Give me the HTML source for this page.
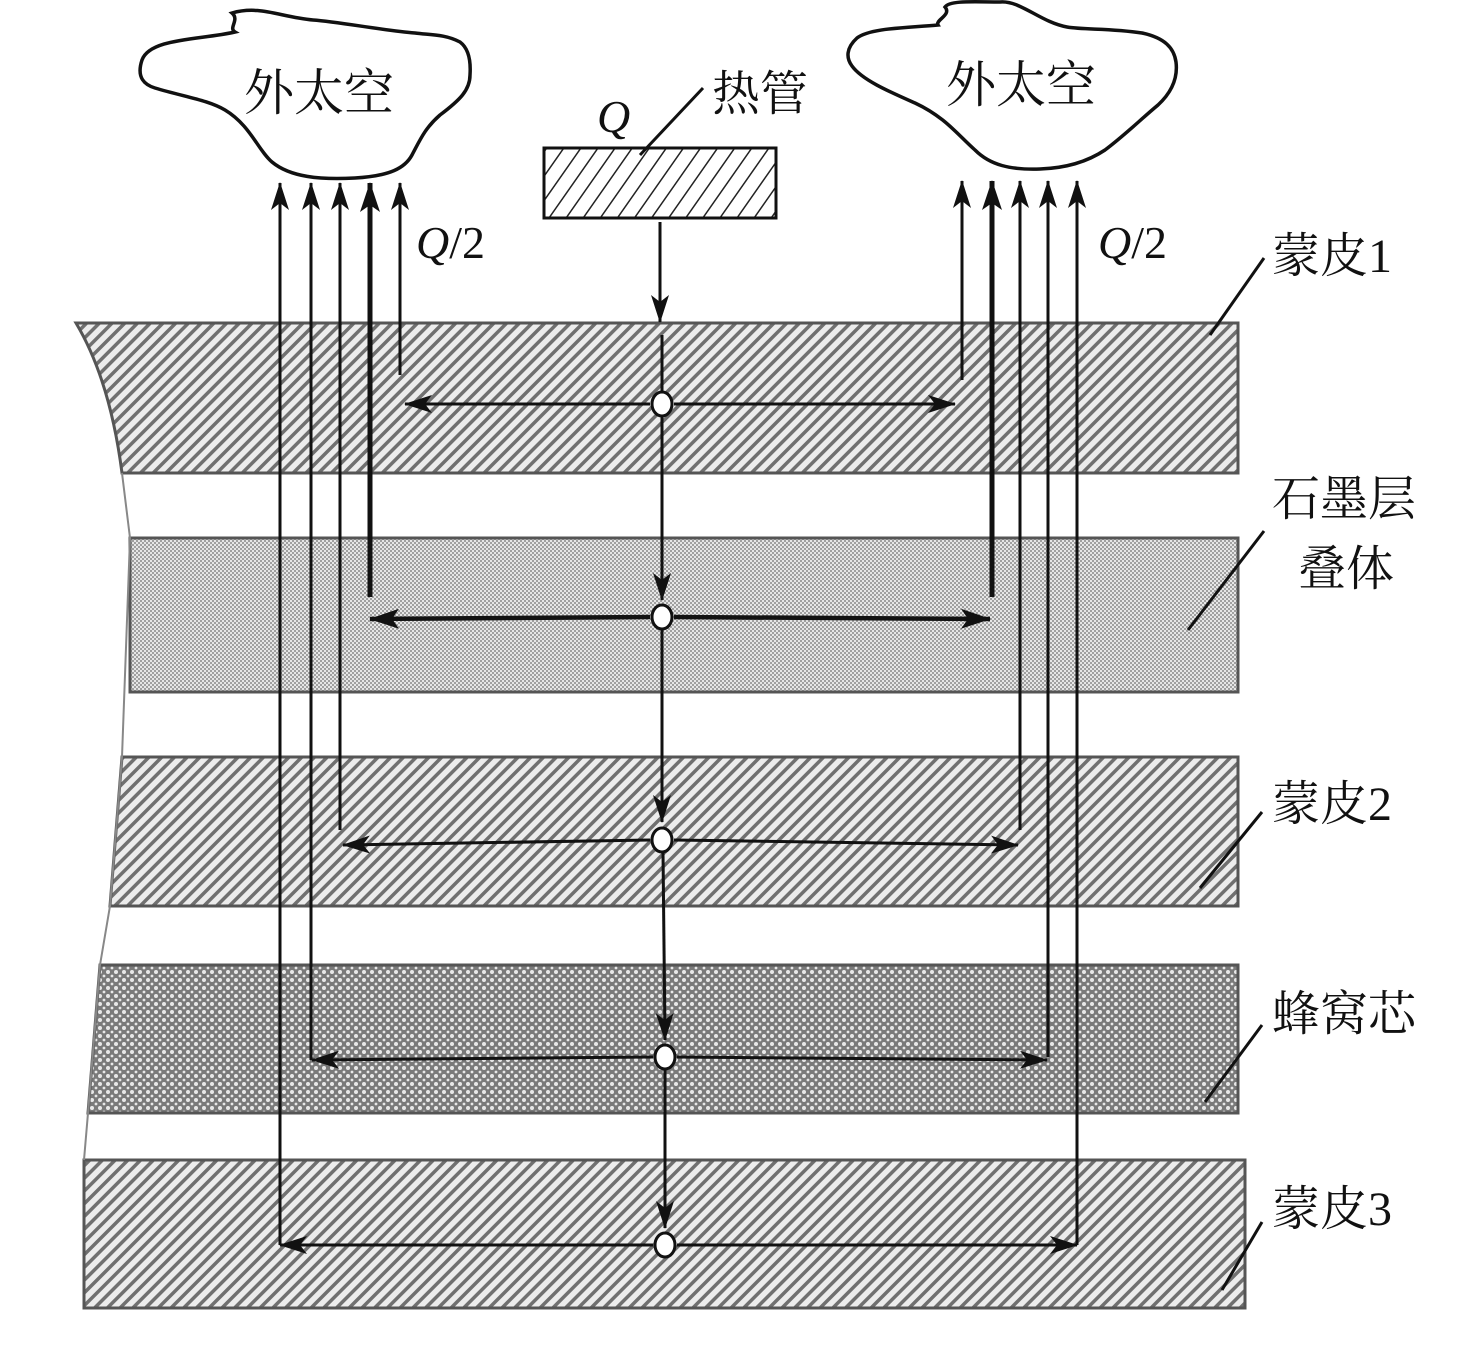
<!DOCTYPE html>
<html><head><meta charset="utf-8"><style>
html,body{margin:0;padding:0;background:#fff;}
svg{display:block;}
text{font-family:"Liberation Serif","Noto Serif CJK SC",serif;fill:#111;}
</style></head><body>
<svg width="1476" height="1345" viewBox="0 0 1476 1345" xmlns="http://www.w3.org/2000/svg">
<defs>
<pattern id="hatch" width="9" height="9" patternUnits="userSpaceOnUse" patternTransform="rotate(45)">
<rect width="9" height="9" fill="#ececec"/><rect width="3.5" height="9" fill="#707070"/>
</pattern>
<pattern id="dots" width="4" height="4" patternUnits="userSpaceOnUse">
<rect width="4" height="4" fill="#e6e6e6"/><rect width="2" height="2" fill="#a0a0a0"/><rect x="2" y="2" width="2" height="2" fill="#a0a0a0"/>
</pattern>
<pattern id="cross" width="8" height="8" patternUnits="userSpaceOnUse">
<rect width="8" height="8" fill="#7a7a7a"/><circle cx="4" cy="4" r="2" fill="#e8e8e8"/><circle cx="0" cy="0" r="1.4" fill="#e8e8e8"/><circle cx="8" cy="8" r="1.4" fill="#e8e8e8"/><circle cx="8" cy="0" r="1.4" fill="#e8e8e8"/><circle cx="0" cy="8" r="1.4" fill="#e8e8e8"/>
</pattern>
<pattern id="pipe" width="14" height="14" patternUnits="userSpaceOnUse" patternTransform="rotate(35)">
<rect width="14" height="14" fill="#fff"/><rect width="1.5" height="14" fill="#222"/>
</pattern>
<marker id="ah" viewBox="0 0 28 18" refX="27" refY="9" markerWidth="28" markerHeight="18" markerUnits="userSpaceOnUse" orient="auto">
<path d="M0,0 L28,9 L0,18 L7,9 Z" fill="#111"/>
</marker>
<marker id="ahb" viewBox="0 0 30 20" refX="29" refY="10" markerWidth="30" markerHeight="20" markerUnits="userSpaceOnUse" orient="auto">
<path d="M0,0 L30,10 L0,20 L7,10 Z" fill="#111"/>
</marker>
</defs>

<!-- layers -->
<path d="M76,323 L1238,323 L1238,473 L122,473 Q110,380 76,323 Z" fill="url(#hatch)" stroke="#555" stroke-width="3"/>
<rect x="130" y="538" width="1108" height="154" fill="url(#dots)" stroke="#555" stroke-width="3"/>
<path d="M122,757 L1238,757 L1238,906 L110,906 Z" fill="url(#hatch)" stroke="#555" stroke-width="3"/>
<path d="M100,965 L1238,965 L1238,1113 L88,1113 Z" fill="url(#cross)" stroke="#555" stroke-width="3"/>
<rect x="84" y="1160" width="1161" height="148" fill="url(#hatch)" stroke="#555" stroke-width="3"/>
<path d="M122,473 L130,538 L122,757 L110,906 L100,965 L88,1113 L84,1160" fill="none" stroke="#888" stroke-width="2"/>

<!-- clouds -->
<path d="M232,13 C240,20 228,28 235,32 C200,40 150,38 142,60 C136,78 145,85 155,88 C185,97 208,100 225,110 C250,125 258,150 272,162 C290,177 320,180 355,178 C390,176 405,168 412,155 C420,140 425,128 440,115 C460,100 470,90 470,75 C471,60 468,48 460,42 C445,34 430,35 415,33 C380,30 340,22 313,20 C280,17 260,5 232,13 Z" fill="#fff" stroke="#111" stroke-width="3.5"/>
<path d="M945,7 C952,15 935,20 938,25 C905,28 870,28 857,38 C846,48 846,58 852,66 C862,80 890,92 915,103 C945,117 958,135 975,150 C990,165 1010,170 1040,169 C1070,168 1090,160 1105,150 C1125,135 1140,120 1158,105 C1172,92 1178,78 1176,62 C1174,48 1165,38 1142,33 C1110,28 1085,30 1067,27 C1040,22 1020,0 1000,2 C975,2 950,0 945,7 Z" fill="#fff" stroke="#111" stroke-width="3.5"/>
<text x="244" y="110" font-size="50">外太空</text>
<text x="946" y="102" font-size="50">外太空</text>

<!-- heat pipe -->
<rect x="544" y="148" width="232" height="70" fill="url(#pipe)" stroke="#111" stroke-width="3"/>
<text x="597" y="132" font-size="46" font-style="italic">Q</text>
<line x1="640" y1="155" x2="703" y2="88" stroke="#111" stroke-width="3"/>
<text x="712" y="110" font-size="48">热管</text>

<!-- Q/2 -->
<text x="416" y="258" font-size="46"><tspan font-style="italic">Q</tspan>/2</text>
<text x="1098" y="258" font-size="46"><tspan font-style="italic">Q</tspan>/2</text>

<!-- center chain -->
<g stroke="#111" stroke-width="3" fill="none">
<line x1="660" y1="222" x2="660" y2="322" marker-end="url(#ah)"/>
<line x1="662" y1="335" x2="662" y2="392"/>
<line x1="662" y1="416" x2="662" y2="600" marker-end="url(#ah)"/>
<line x1="662" y1="630" x2="662" y2="822" marker-end="url(#ah)"/>
<line x1="663" y1="852" x2="665" y2="1040" marker-end="url(#ah)"/>
<line x1="665" y1="1070" x2="665" y2="1228" marker-end="url(#ah)"/>

<!-- horizontal arrows -->
<line x1="650" y1="404" x2="405" y2="404" marker-end="url(#ah)"/>
<line x1="674" y1="404" x2="955" y2="404" marker-end="url(#ah)"/>
<line x1="650" y1="617" x2="370" y2="619" stroke-width="4.5" marker-end="url(#ahb)"/>
<line x1="674" y1="617" x2="990" y2="619" stroke-width="4.5" marker-end="url(#ahb)"/>
<line x1="650" y1="840" x2="343" y2="845" marker-end="url(#ah)"/>
<line x1="674" y1="840" x2="1018" y2="845" marker-end="url(#ah)"/>
<line x1="653" y1="1057" x2="312" y2="1060" marker-end="url(#ah)"/>
<line x1="677" y1="1057" x2="1047" y2="1060" marker-end="url(#ah)"/>
<line x1="653" y1="1245" x2="280" y2="1245" marker-end="url(#ah)"/>
<line x1="677" y1="1245" x2="1077" y2="1245" marker-end="url(#ah)"/>

<!-- left verticals -->
<line x1="280" y1="1245" x2="280" y2="183" marker-end="url(#ah)"/>
<line x1="311" y1="1060" x2="311" y2="183" marker-end="url(#ah)"/>
<line x1="340" y1="830" x2="340" y2="183" marker-end="url(#ah)"/>
<line x1="370" y1="597" x2="370" y2="183" stroke-width="5" marker-end="url(#ahb)"/>
<line x1="400" y1="375" x2="400" y2="183" marker-end="url(#ah)"/>
<!-- right verticals -->
<line x1="962" y1="380" x2="962" y2="181" marker-end="url(#ah)"/>
<line x1="992" y1="597" x2="992" y2="181" stroke-width="5" marker-end="url(#ahb)"/>
<line x1="1020" y1="830" x2="1020" y2="181" marker-end="url(#ah)"/>
<line x1="1048" y1="1057" x2="1048" y2="181" marker-end="url(#ah)"/>
<line x1="1077" y1="1245" x2="1077" y2="181" marker-end="url(#ah)"/>
</g>

<!-- nodes -->
<g fill="#fff" stroke="#111" stroke-width="3">
<ellipse cx="662" cy="404" rx="10" ry="12"/>
<ellipse cx="662" cy="617" rx="10" ry="12"/>
<ellipse cx="662" cy="840" rx="10" ry="12"/>
<ellipse cx="665" cy="1057" rx="10" ry="12"/>
<ellipse cx="665" cy="1245" rx="10" ry="12"/>
</g>

<!-- right labels -->
<g stroke="#111" stroke-width="3">
<line x1="1210" y1="335" x2="1264" y2="258"/>
<line x1="1188" y1="630" x2="1264" y2="531"/>
<line x1="1200" y1="888" x2="1262" y2="812"/>
<line x1="1205" y1="1102" x2="1262" y2="1025"/>
<line x1="1222" y1="1290" x2="1262" y2="1222"/>
</g>
<text x="1272" y="272" font-size="48">蒙皮1</text>
<text x="1272" y="515" font-size="48">石墨层</text>
<text x="1298" y="585" font-size="48">叠体</text>
<text x="1272" y="820" font-size="48">蒙皮2</text>
<text x="1272" y="1030" font-size="48">蜂窝芯</text>
<text x="1272" y="1225" font-size="48">蒙皮3</text>
</svg>
</body></html>
